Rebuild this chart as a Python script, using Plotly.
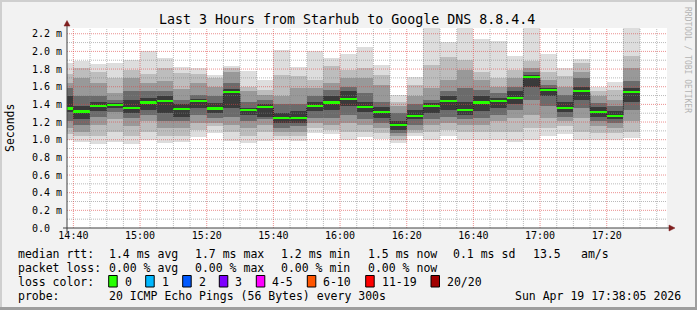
import plotly.graph_objects as go
import pandas as pd

# ---------------- data (ms) ----------------
bar_start = pd.date_range("2026-04-19 14:35", periods=35, freq="5min")
t_begin = "2026-04-19 14:38:05"
t_end = "2026-04-19 17:38:05"

median_ms = [1.354, 1.32, 1.385, 1.396, 1.362, 1.422, 1.434, 1.343, 1.434, 1.354,
             1.536, 1.332, 1.374, 1.246, 1.246, 1.385, 1.422, 1.464, 1.374, 1.314,
             1.166, 1.272, 1.377, 1.434, 1.332, 1.422, 1.434, 1.475, 1.706, 1.559,
             1.362, 1.547, 1.317, 1.272, 1.536]
p_max = [1.87, 1.887, 1.86, 1.872, 1.898, 2.0, 1.92, 1.825, 1.81, 1.736,
         1.84, 1.773, 1.672, 2.02, 1.823, 2.0, 1.93, 1.965, 2.045, 1.85,
         1.51, 1.71, 2.30, 2.11, 2.30, 2.14, 2.12, 1.95, 2.30, 1.97,
         1.81, 1.91, 1.60, 1.65, 2.30]
p_hi2 = [1.74, 1.81, 1.77, 1.70, 1.79, 1.74, 1.81, 1.755, 1.74, 1.70,
         1.81, 1.60, 1.566, 1.736, 1.72, 1.68, 1.83, 1.79, 1.81, 1.736,
         1.43, 1.62, 1.85, 1.94, 1.906, 1.77, 1.70, 1.79, 1.887, 1.77,
         1.72, 1.868, 1.55, 1.566, 1.944]
p_hi3 = [1.64, 1.70, 1.64, 1.53, 1.70, 1.64, 1.66, 1.57, 1.64, 1.60,
         1.77, 1.55, 1.51, 1.49, 1.585, 1.585, 1.64, 1.70, 1.70, 1.62,
         1.38, 1.49, 1.585, 1.68, 1.79, 1.68, 1.60, 1.70, 1.81, 1.68,
         1.60, 1.77, 1.49, 1.45, 1.81]
p_hi4 = [1.585, 1.49, 1.49, 1.45, 1.55, 1.55, 1.55, 1.45, 1.51, 1.49,
         1.64, 1.43, 1.45, 1.40, 1.40, 1.49, 1.566, 1.60, 1.53, 1.43,
         1.30, 1.40, 1.45, 1.55, 1.585, 1.566, 1.53, 1.60, 1.77, 1.62,
         1.51, 1.70, 1.415, 1.38, 1.66]
p_hi5 = [1.49, 1.38, 1.43, 1.415, 1.45, 1.47, 1.49, 1.40, 1.465, 1.415,
         1.57, 1.36, 1.40, 1.30, 1.33, 1.43, 1.49, 1.55, 1.43, 1.37,
         1.21, 1.34, 1.415, 1.49, 1.43, 1.49, 1.47, 1.55, 1.736, 1.585,
         1.43, 1.60, 1.37, 1.32, 1.585]
p_lo5 = [1.31, 1.23, 1.33, 1.36, 1.30, 1.34, 1.30, 1.26, 1.36, 1.30,
         1.36, 1.28, 1.26, 1.19, 1.19, 1.32, 1.34, 1.38, 1.31, 1.245,
         1.11, 1.23, 1.30, 1.34, 1.28, 1.32, 1.36, 1.40, 1.60, 1.49,
         1.31, 1.45, 1.26, 1.23, 1.43]
p_lo4 = [1.21, 1.17, 1.26, 1.31, 1.245, 1.28, 1.21, 1.21, 1.28, 1.245,
         1.26, 1.21, 1.23, 1.13, 1.15, 1.245, 1.245, 1.28, 1.23, 1.19,
         1.075, 1.17, 1.23, 1.26, 1.23, 1.245, 1.28, 1.34, 1.45, 1.38,
         1.26, 1.36, 1.21, 1.19, 1.34]
p_lo3 = [1.13, 1.09, 1.17, 1.23, 1.15, 1.21, 1.13, 1.13, 1.19, 1.19,
         1.17, 1.13, 1.17, 1.09, 1.09, 1.19, 1.17, 1.19, 1.17, 1.13,
         1.04, 1.11, 1.17, 1.19, 1.17, 1.17, 1.21, 1.245, 1.28, 1.245,
         1.21, 1.245, 1.15, 1.13, 1.21]
p_lo2 = [1.06, 1.04, 1.04, 1.09, 1.04, 1.09, 1.04, 1.04, 1.11, 1.15,
         1.09, 1.04, 1.09, 1.04, 1.04, 1.13, 1.11, 1.09, 1.09, 1.075,
         1.0, 1.075, 1.09, 1.11, 1.09, 1.09, 1.09, 1.09, 1.13, 1.13,
         1.15, 1.09, 1.075, 1.075, 1.09]
p_min = [1.0, 0.97, 0.955, 0.975, 0.95, 1.0, 0.96, 0.97, 1.03, 1.08,
         0.98, 0.96, 0.98, 1.0, 0.99, 1.075, 1.06, 1.0, 1.03, 1.01,
         0.96, 1.045, 1.0, 1.045, 1.0, 1.0, 1.0, 0.97, 1.0, 1.045,
         1.07, 1.0, 1.0, 1.0, 1.02]

y_ticks = [0.0, 0.2, 0.4, 0.6, 0.8, 1.0, 1.2, 1.4, 1.6, 1.8, 2.0, 2.2]
y_tick_text = ["0.0\u00a0\u00a0", "0.2 m", "0.4 m", "0.6 m", "0.8 m", "1.0 m", "1.2 m",
               "1.4 m", "1.6 m", "1.8 m", "2.0 m", "2.2 m"]
x_major = pd.date_range("2026-04-19 14:40", "2026-04-19 17:20", freq="20min")
x_minor = pd.date_range("2026-04-19 14:40", "2026-04-19 17:35", freq="5min")
y_minor = [round(0.1 * i, 1) for i in range(1, 23)]

loss_labels = ["0", "1", "2", "3", "4-5", "6-10", "11-19", "20/20"]
loss_colors = ["#26ff00", "#00b8ff", "#0059ff", "#7e00ff", "#ff00ff", "#ff5500", "#ff0000", "#a10000"]

# ---------------- figure ----------------
STEP_MS = 5 * 60 * 1000
Y_TOP = 2.265
MONO = "DejaVu Sans Mono"

fig = go.Figure()

layers = [(p_min, p_max, "#dddddd"), (p_lo2, p_hi2, "#bdbdbd"), (p_lo3, p_hi3, "#999999"),
          (p_lo4, p_hi4, "#6b6b6b"), (p_lo5, p_hi5, "#3a3a3a")]
for lo, hi, col in layers:
    fig.add_trace(go.Bar(x=bar_start, base=lo, y=[h - l for l, h in zip(lo, hi)],
                         width=STEP_MS, offset=0, marker=dict(color=col, line_width=0),
                         hoverinfo="skip"))

# grid (drawn above smoke, like rrdtool)
def vlines(times):
    xs, ys = [], []
    for t in times:
        xs += [t, t, None]
        ys += [0, Y_TOP, None]
    return xs, ys

def hlines(vals):
    xs, ys = [], []
    for v in vals:
        xs += [t_begin, t_end, None]
        ys += [v, v, None]
    return xs, ys

major_set = set(x_major)
minor_t = [t for t in x_minor if t not in major_set]
minor_y = [v for v in y_minor if round(v * 10) % 2 == 1]
for (xs, ys), col in [(vlines(minor_t), "rgba(130,130,130,0.55)"),
                      (hlines(minor_y), "rgba(130,130,130,0.55)"),
                      (vlines(x_major), "rgba(222,70,70,0.6)"),
                      (hlines(y_ticks[1:]), "rgba(222,70,70,0.6)")]:
    fig.add_trace(go.Scatter(x=xs, y=ys, mode="lines", line=dict(color=col, width=1, dash="1px,1px"),
                             hoverinfo="skip", connectgaps=False))

# median: on an overlaying axis so it sits above the grid
bar_end = [t + pd.Timedelta(minutes=5) for t in bar_start]
fig.add_trace(go.Bar(x=bar_start, base=[m - 0.012 for m in median_ms], y=[0.024] * len(median_ms),
                     width=STEP_MS, offset=0, marker=dict(color=loss_colors[0], line_width=0),
                     hoverinfo="skip", yaxis="y2"))
cx, cy = [], []
for e, m0, m1 in zip(bar_end[:-1], median_ms[:-1], median_ms[1:]):
    lo_, hi_ = min(m0, m1), max(m0, m1)
    cx += [e, e, None]
    cy += [lo_ + 0.012, hi_ - 0.012, None]
fig.add_trace(go.Scatter(x=cx, y=cy, mode="lines",
                         line=dict(color="#1a1a1a", width=1, dash="1px,1px"),
                         hoverinfo="skip", connectgaps=False, yaxis="y2"))

W, H = 697, 310
L, R, T, B = 67, 30, 28, 82


def px(x):
    return (x - L) / (W - L - R)


def py(y):
    return (H - B - y) / (H - T - B)


ann = []
shapes = []


def text(x, y, s, size=11.5, anchor="left", color="#000000", angle=0):
    ann.append(dict(x=px(x), y=py(y), xref="paper", yref="paper", text=s, showarrow=False,
                    xanchor=anchor, yanchor="middle", textangle=angle,
                    font=dict(family=MONO, size=size, color=color)))


text(347, 19, "Last 3 Hours from Starhub to Google DNS 8.8.4.4", size=13.3, anchor="center")
text(10, 128, "Seconds", size=11.5, anchor="center", angle=-90)
text(688, 60, "RRDTOOL / TOBI OETIKER", size=8, anchor="center", color="#b4b4b4", angle=90)

line1 = [(16, "median rtt:"), (107.3, "1.4 ms avg"), (193.3, "1.7 ms max"), (279.3, "1.2 ms min"),
         (366, "1.5 ms now"), (451, "0.1 ms sd"), (530.7, "13.5"), (579.3, "am/s")]
line2 = [(16, "packet loss:"), (107.3, "0.00 % avg"), (193.3, "0.00 % max"), (279.3, "0.00 % min"),
         (366, "0.00 % now")]
line4 = [(16, "probe:"), (107.3, "20 ICMP Echo Pings (56 Bytes) every 300s"),
         (513.3, "Sun Apr 19 17:38:05 2026")]
for yy, items in [(254.3, line1), (268.3, line2), (296.3, line4)]:
    for xx, s in items:
        text(xx, yy, s)
text(16, 281.7, "loss color:")
box_x = [108.7, 145.7, 182.7, 219.3, 256.3, 307.3, 365.7, 431]
for bx, lab, col in zip(box_x, loss_labels, loss_colors):
    shapes.append(dict(type="rect", xref="paper", yref="paper", x0=px(bx), x1=px(bx + 8.5),
                       y0=py(287), y1=py(275.5), fillcolor=col, line=dict(color="#000000", width=1)))
    text(bx + 14, 281.7, lab)

# canvas 3d border
shapes += [
    dict(type="rect", xref="paper", yref="paper", x0=px(0), x1=px(W), y0=py(2), y1=py(0),
         fillcolor="#cfcfcf", line_width=0),
    dict(type="rect", xref="paper", yref="paper", x0=px(0), x1=px(2), y0=py(H), y1=py(0),
         fillcolor="#cfcfcf", line_width=0),
    dict(type="rect", xref="paper", yref="paper", x0=px(0), x1=px(W), y0=py(H), y1=py(H - 3),
         fillcolor="#9e9e9e", line_width=0),
    dict(type="rect", xref="paper", yref="paper", x0=px(W - 2), x1=px(W), y0=py(H), y1=py(0),
         fillcolor="#9e9e9e", line_width=0),
]
# axes with arrows
shapes += [
    dict(type="line", xref="paper", yref="paper", x0=px(67), x1=px(67), y0=py(232), y1=py(24),
         line=dict(color="#404040", width=1), layer="above"),
    dict(type="line", xref="paper", yref="paper", x0=px(63), x1=px(670), y0=py(228), y1=py(228),
         line=dict(color="#404040", width=1), layer="above"),
    dict(type="path", xref="paper", yref="paper",
         path=f"M {px(67)} {py(20.5)} L {px(64)} {py(26)} L {px(70)} {py(26)} Z",
         fillcolor="#7f1f1f", line=dict(color="#7f1f1f", width=0.5), layer="above"),
    dict(type="path", xref="paper", yref="paper",
         path=f"M {px(675)} {py(228)} L {px(669)} {py(225)} L {px(669)} {py(231)} Z",
         fillcolor="#7f1f1f", line=dict(color="#7f1f1f", width=0.5), layer="above"),
]

fig.update_layout(
    width=W, height=H, margin=dict(l=L, r=R, t=T, b=B, pad=0),
    paper_bgcolor="#f2f2f2", plot_bgcolor="#ffffff",
    barmode="overlay", bargap=0, showlegend=False,
    annotations=ann, shapes=shapes,
    xaxis=dict(type="date", range=[t_begin, t_end], showgrid=False, zeroline=False,
               showline=False, tickvals=list(x_major), ticktext=[t.strftime("%H:%M") for t in x_major],
               ticks="", tickfont=dict(family=MONO, size=10, color="#000000"), fixedrange=True),
    yaxis=dict(range=[0, Y_TOP], showgrid=False, zeroline=False, showline=False,
               tickvals=y_ticks, ticktext=y_tick_text, ticks="",
               tickfont=dict(family=MONO, size=10, color="#000000"), ticklabelstandoff=4,
               fixedrange=True),
    yaxis2=dict(range=[0, Y_TOP], overlaying="y", side="left", showgrid=False, zeroline=False,
                showline=False, showticklabels=False, ticks="", fixedrange=True),
)

fig.write_html("out.html", config={"displayModeBar": False})
